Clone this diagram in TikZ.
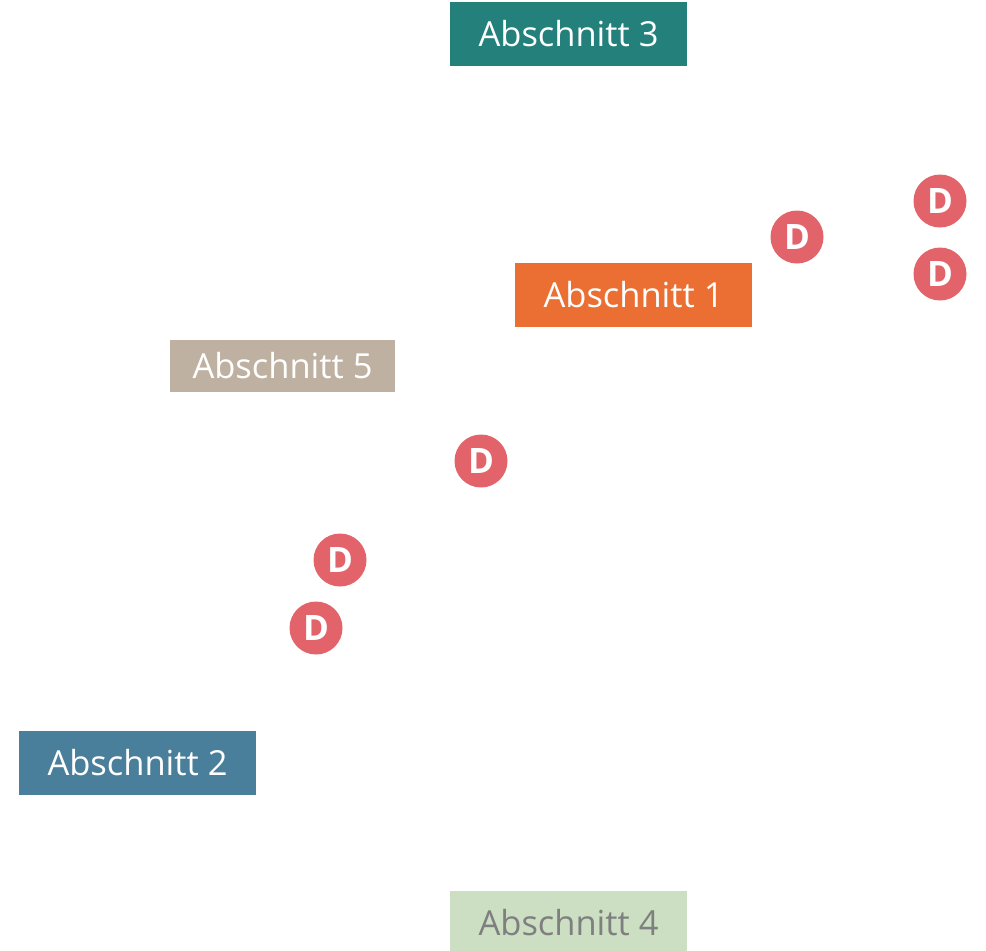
\documentclass[tikz,border=0pt]{standalone}
\usepackage{fontspec}
\setmainfont{Open Sans}
\definecolor{cteal}{HTML}{23807B}
\definecolor{corange}{HTML}{EB6E33}
\definecolor{ctan}{HTML}{BFB1A1}
\definecolor{cblue}{HTML}{4A7F9B}
\definecolor{cgreen}{HTML}{CCDFC3}
\definecolor{cgraytext}{HTML}{7F7F7F}
\definecolor{cred}{HTML}{E2646A}
\tikzset{
  secbox/.style={rectangle, inner sep=0pt, minimum width=237pt, minimum height=64pt, text=white, font=\fontsize{34.5}{40}\selectfont},
  dmark/.style={circle, fill=cred, inner sep=0pt, minimum size=53pt, text=white, font=\fontsize{35}{40}\selectfont\bfseries},
}
\begin{document}
\begin{tikzpicture}[x=1pt,y=-1pt]
\useasboundingbox (0,0) rectangle (986,951);
\node[secbox, fill=cteal] (s3) at (568.5,34) {Abschnitt 3};
\node[secbox, fill=corange] (s1) at (633.5,295) {Abschnitt 1};
\node[secbox, fill=ctan, minimum width=225pt, minimum height=52pt] (s5) at (282.5,366) {Abschnitt 5};
\node[secbox, fill=cblue] (s2) at (137.5,763) {Abschnitt 2};
\node[secbox, fill=cgreen, text=cgraytext, minimum height=64pt] (s4) at (568.5,923) {Abschnitt 4};
\node[dmark] (d1) at (797,237) {D};
\node[dmark] (d2) at (940,201) {D};
\node[dmark] (d3) at (940,274) {D};
\node[dmark] (d4) at (481,461) {D};
\node[dmark] (d5) at (340,560) {D};
\node[dmark] (d6) at (316,628) {D};
\end{tikzpicture}
\end{document}
